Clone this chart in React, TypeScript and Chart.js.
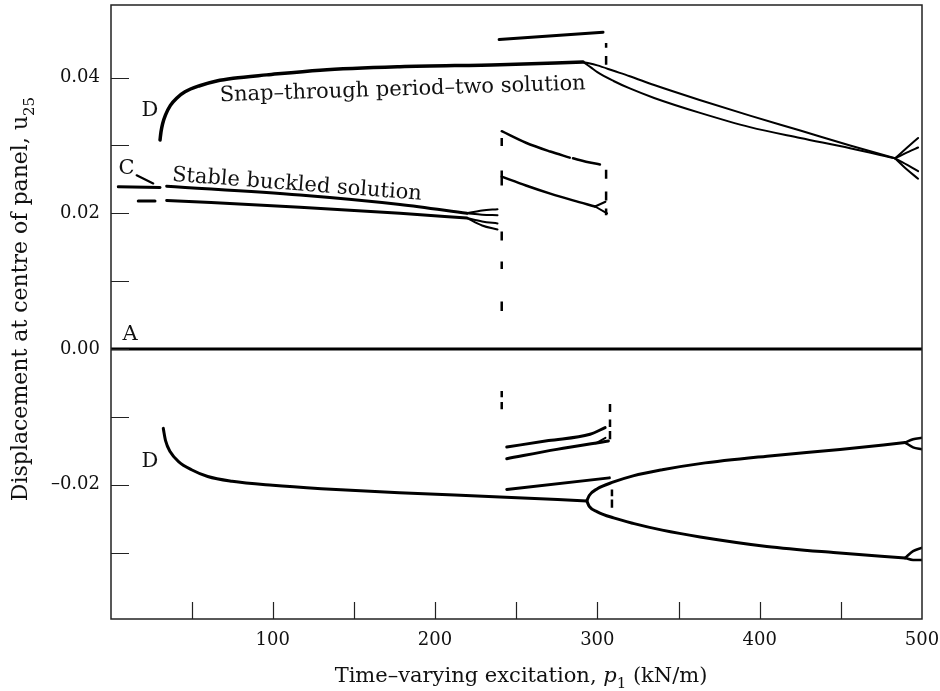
import React, { useEffect, useRef } from "react";
import { Chart, registerables } from "chart.js";

Chart.register(...registerables);

const FONT = "'DejaVu Serif', serif";

// ---- axis ticks ----
const xTickValues = [50, 100, 150, 200, 250, 300, 350, 400, 450, 500];
const xTickLabels = ["", "100", "", "200", "", "300", "", "400", "", "500"];
const yTickValues = [-0.03, -0.02, -0.01, 0, 0.01, 0.02, 0.03, 0.04];
const yTickLabels = ["", "–0.02", "", "0.00", "", "0.02", "", "0.04"];

// ---- curves [p1, u25] ----
const snapMain = [[30.6, 0.0308], [31.2, 0.0320], [32.2, 0.0332], [34, 0.0345], [37, 0.0359], [41, 0.0370], [46, 0.0379], [55, 0.0388], [65.5, 0.0395], [75.7, 0.0399], [96.3, 0.0404], [129.2, 0.0411], [178.4, 0.0416], [240, 0.0419], [291.2, 0.0423]];
const snapBranchUpper = [[291.2, 0.0423], [300, 0.0418], [310, 0.0410], [320, 0.0402], [335, 0.0389], [363, 0.0367], [394, 0.0344], [425, 0.0322], [455.7, 0.03], [483.4, 0.0281]];
const snapBranchLower = [[291.2, 0.0423], [296, 0.0415], [300, 0.0408], [310, 0.0395], [320, 0.0384], [335, 0.037], [363.3, 0.0348], [394, 0.0327], [425, 0.0311], [455.7, 0.0296], [483.4, 0.0281]];
const snapForkA = [[483.4, 0.0281], [490, 0.0295], [497.6, 0.0311]];
const snapForkB = [[483.4, 0.0281], [492, 0.0291], [497.6, 0.0297]];
const snapForkC = [[483.4, 0.0281], [492, 0.027], [497.6, 0.0262]];
const snapForkD = [[483.4, 0.0281], [490, 0.0266], [497.6, 0.0251]];
const topShort = [[239.5, 0.0456], [303.5, 0.0467]];

const cUpperStart = [[4.9, 0.0239], [30.6, 0.0238]];
const cLowerStart = [[17.2, 0.0218], [27.5, 0.0218]];
const cSlant = [[16.2, 0.0256], [26.4, 0.0244]];
const buckledUpper = [[34.7, 0.024], [116.8, 0.0227], [178.4, 0.0213], [219.7, 0.02]];
const buckledLower = [[34.7, 0.0219], [116.8, 0.0209], [178.4, 0.02], [219.7, 0.0193]];
const fanA = [[219.7, 0.02], [229, 0.0204], [238.5, 0.0206]];
const fanB = [[219.7, 0.02], [229, 0.0198], [238.5, 0.0197]];
const fanC = [[219.7, 0.0193], [229, 0.0188], [238.5, 0.0185]];
const fanD = [[219.7, 0.0193], [229, 0.0182], [238.5, 0.0176]];

const midSeg1a = [[241.1, 0.0321], [256, 0.0304], [271, 0.0291], [283, 0.0282]];
const midSeg1b = [[285, 0.0281], [293, 0.0276], [301.6, 0.0272]];
const midSeg2 = [[241.1, 0.0254], [256, 0.0241], [271, 0.0229], [285, 0.0219], [298.6, 0.021]];
const midSeg2ForkA = [[298.6, 0.021], [305, 0.0217]];
const midSeg2ForkB = [[298.6, 0.021], [306, 0.02]];

const trivialA = [[0, 0], [500, 0]];

const lowMidL1 = [[244.2, -0.01445], [270, -0.0135], [295.5, -0.01257], [304.8, -0.01159]];
const lowMidL2 = [[244.2, -0.01617], [275, -0.0148], [306.8, -0.01356]];
const lowMidL2Fork = [[299, -0.0139], [305, -0.0131]];
const lowMidL3 = [[244.2, -0.0207], [307.4, -0.019]];

const lowerMain = [[32.6, -0.0117], [34, -0.0135], [37, -0.0152], [42, -0.0166], [50, -0.0178], [60, -0.0188], [75, -0.0195], [100, -0.0201], [130, -0.0206], [178, -0.0212], [240, -0.0218], [293.5, -0.0224]];
const lowerBranchUpper = [[293.5, -0.0224], [295, -0.0216], [300, -0.0206], [310, -0.0196], [322, -0.0187], [340, -0.0178], [363.3, -0.0169], [404.5, -0.0158], [449.5, -0.0148], [489.6, -0.0138]];
const lowerBranchLower = [[293.5, -0.0224], [295, -0.0232], [300, -0.024], [310, -0.0249], [322, -0.0257], [340, -0.0267], [363.3, -0.0277], [404.4, -0.0291], [445.4, -0.03], [489.6, -0.0308]];
const lowerForkA = [[489.6, -0.0138], [494.5, -0.0133], [500, -0.0131]];
const lowerForkB = [[489.6, -0.0138], [494.5, -0.0145], [500, -0.0148]];
const lowerForkC = [[489.6, -0.0308], [494.5, -0.0298], [500, -0.0293]];
const lowerForkD = [[489.6, -0.0308], [494.5, -0.0311], [500, -0.0311]];

// ---- dashed jump lines: x, then [from, to] pieces ----
const jump241UpperX = 241.1;
const jump241Upper = [[0.0311, 0.0299], [0.0263, 0.0241], [0.0173, 0.016], [0.0129, 0.0118], [0.007, 0.0056]];
const jump241LowerX = 241.1;
const jump241Lower = [[-0.0062, -0.0071], [-0.0078, -0.0089]];
const jump305X = 305.4;
const jump305 = [[0.0451, 0.0444], [0.0432, 0.0419], [0.0264, 0.0251], [0.0232, 0.0219], [0.0207, 0.0197]];
const jump308X = 307.8;
const jump308 = [[-0.0081, -0.0093], [-0.0104, -0.0115], [-0.0121, -0.0133]];
const jump309X = 309;
const jump309 = [[-0.0207, -0.0217], [-0.0222, -0.0234]];

// ---- curve labels ----
const curveLabels = [
  { text: "D", x: 24.4, y: 0.0351 },
  { text: "C", x: 10, y: 0.0266 },
  { text: "A", x: 12.1, y: 0.0022 },
  { text: "D", x: 24.4, y: -0.0166 },
];
const notes = [
  { text: "Snap–through period–two solution", x: 180.1, y: 0.0382, angle: -1.85 },
  { text: "Stable buckled solution", x: 114.9, y: 0.0242, angle: 4.4 },
];

const pts = (a: number[][]) => a.map(([x, y]) => ({ x, y }));
const dashes = (x: number, pieces: number[][]) => {
  const out: { x: number; y: number | null }[] = [];
  pieces.forEach(([a, b], i) => {
    if (i > 0) out.push({ x, y: null });
    out.push({ x, y: a }, { x, y: b });
  });
  return out;
};

function curve(data: number[][], width: number, smooth = true) {
  return {
    data: pts(data),
    borderColor: "#000",
    borderWidth: width,
    pointRadius: 0,
    fill: false,
    cubicInterpolationMode: smooth ? "monotone" : "default",
    tension: 0,
    borderCapStyle: "round",
  };
}
function jump(x: number, pieces: number[][]) {
  return {
    data: dashes(x, pieces),
    borderColor: "#000",
    borderWidth: 2.5,
    pointRadius: 0,
    fill: false,
    tension: 0,
    spanGaps: false,
    borderCapStyle: "butt",
  };
}

function drawParts(ctx: CanvasRenderingContext2D, parts: { t: string; italic?: boolean; sub?: boolean }[], size: number) {
  const fontOf = (p: any) => `${p.italic ? "italic " : ""}${p.sub ? Math.round(size * 0.7) : size}px ${FONT}`;
  let total = 0;
  parts.forEach((p) => { ctx.font = fontOf(p); total += ctx.measureText(p.t).width; });
  let cx = -total / 2;
  parts.forEach((p) => {
    ctx.font = fontOf(p);
    ctx.fillText(p.t, cx, p.sub ? size * 0.3 : 0);
    cx += ctx.measureText(p.t).width;
  });
}

const overlay = {
  id: "overlay",
  afterDraw(chart: any) {
    const { ctx, chartArea: a, scales } = chart;
    const xs = scales.x, ys = scales.y;
    ctx.save();
    ctx.strokeStyle = "#222";
    ctx.lineWidth = 1.5;
    ctx.strokeRect(a.left, a.top, a.right - a.left, a.bottom - a.top);
    ctx.lineWidth = 1.2;
    ctx.beginPath();
    xs.ticks.forEach((t: any) => {
      const px = Math.round(xs.getPixelForValue(t.value)) + 0.5;
      if (px <= a.left + 2 || px >= a.right - 2) return;
      ctx.moveTo(px, a.bottom);
      ctx.lineTo(px, a.bottom - 17);
    });
    ys.ticks.forEach((t: any) => {
      const py = Math.round(ys.getPixelForValue(t.value)) + 0.5;
      if (py <= a.top + 2 || py >= a.bottom - 2) return;
      ctx.moveTo(a.left, py);
      ctx.lineTo(a.left + 18, py);
    });
    ctx.stroke();

    ctx.fillStyle = "#111";
    ctx.textAlign = "center";
    ctx.textBaseline = "middle";
    ctx.font = `21px ${FONT}`;
    curveLabels.forEach((l) => {
      ctx.fillText(l.text, xs.getPixelForValue(l.x), ys.getPixelForValue(l.y));
    });
    notes.forEach((n) => {
      ctx.save();
      ctx.translate(xs.getPixelForValue(n.x), ys.getPixelForValue(n.y));
      ctx.rotate((n.angle * Math.PI) / 180);
      ctx.font = `21px ${FONT}`;
      ctx.fillText(n.text, 0, 0);
      ctx.restore();
    });

    // axis titles
    ctx.textAlign = "left";
    ctx.textBaseline = "alphabetic";
    ctx.save();
    ctx.translate(521, 682);
    drawParts(ctx, [{ t: "Time–varying excitation, " }, { t: "p", italic: true }, { t: "1", sub: true }, { t: " (kN/m)" }], 21);
    ctx.restore();
    ctx.save();
    ctx.translate(27, 299);
    ctx.rotate(-Math.PI / 2);
    drawParts(ctx, [{ t: "Displacement at centre of panel, u" }, { t: "25", sub: true }], 22);
    ctx.restore();
    ctx.restore();
  },
};

export default function App() {
  const ref = useRef<HTMLCanvasElement | null>(null);
  useEffect(() => {
    if (!ref.current) return;
    const datasets: any[] = [
      curve(trivialA, 3, false),
      curve(snapMain, 3.5),
      curve(snapBranchUpper, 2),
      curve(snapBranchLower, 2),
      curve(snapForkA, 2),
      curve(snapForkB, 2),
      curve(snapForkC, 2),
      curve(snapForkD, 2),
      curve(topShort, 3, false),
      curve(cUpperStart, 3, false),
      curve(cLowerStart, 3, false),
      curve(cSlant, 2.2, false),
      curve(buckledUpper, 3),
      curve(buckledLower, 3),
      curve(fanA, 2),
      curve(fanB, 2),
      curve(fanC, 2),
      curve(fanD, 2),
      curve(midSeg1a, 2.5),
      curve(midSeg1b, 2.5),
      curve(midSeg2, 2.5),
      curve(midSeg2ForkA, 2, false),
      curve(midSeg2ForkB, 2, false),
      curve(lowMidL1, 3),
      curve(lowMidL2, 3),
      curve(lowMidL2Fork, 2, false),
      curve(lowMidL3, 3, false),
      curve(lowerMain, 3),
      curve(lowerBranchUpper, 3),
      curve(lowerBranchLower, 3),
      curve(lowerForkA, 2.5),
      curve(lowerForkB, 2.5),
      curve(lowerForkC, 2.5),
      curve(lowerForkD, 2.5),
      jump(jump241UpperX, jump241Upper),
      jump(jump241LowerX, jump241Lower),
      jump(jump305X, jump305),
      jump(jump308X, jump308),
      jump(jump309X, jump309),
    ];
    const chart = new Chart(ref.current, {
      type: "line",
      data: { datasets },
      plugins: [overlay],
      options: {
        responsive: false,
        animation: false,
        devicePixelRatio: 1,
        layout: { padding: { top: 5, right: 18, left: 0, bottom: 0 } },
        plugins: { legend: { display: false }, tooltip: { enabled: false } },
        scales: {
          x: {
            type: "linear",
            min: 0.4,
            max: 500,
            grid: { display: false, drawTicks: false },
            border: { display: false },
            afterBuildTicks: (s: any) => { s.ticks = xTickValues.map((v) => ({ value: v })); },
            afterFit: (s: any) => { s.height = 72; s.paddingLeft = 0; s.paddingRight = 0; },
            ticks: {
              autoSkip: false,
              maxRotation: 0,
              padding: 11,
              color: "#111",
              font: { family: FONT, size: 18 },
              callback: (_v: any, i: number) => xTickLabels[i],
            },
          },
          y: {
            type: "linear",
            min: -0.0398,
            max: 0.0507,
            grid: { display: false, drawTicks: false },
            border: { display: false },
            afterBuildTicks: (s: any) => { s.ticks = yTickValues.map((v) => ({ value: v })); },
            afterFit: (s: any) => { s.width = 111; s.paddingTop = 0; s.paddingBottom = 0; },
            ticks: {
              autoSkip: false,
              padding: 11,
              color: "#111",
              font: { family: FONT, size: 18 },
              callback: (_v: any, i: number) => yTickLabels[i],
            },
          },
        },
      } as any,
    });
    return () => chart.destroy();
  }, []);
  return (
    <div style={{ position: "fixed", left: 0, top: 0, width: 940, height: 691, background: "#fff" }}>
      <canvas ref={ref} width={940} height={691} style={{ display: "block" }} />
    </div>
  );
}
